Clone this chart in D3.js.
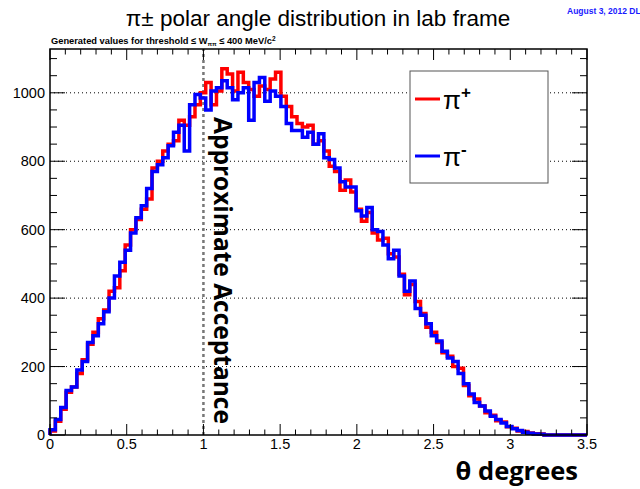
<!DOCTYPE html>
<html>
<head>
<meta charset="utf-8">
<script src="https://cdn.jsdelivr.net/npm/d3@7"></script>
<style>
    body { margin: 0; background: #fff; }
    text { font-family: "Liberation Sans", Arial, sans-serif; }
</style>
</head>
<body>
<div id="chart"></div>
<script>

// == DATA == //
// bin edges: 100 bins from 0 to 3.5
let binWidth = 0.035;
let xTicks = [0, 0.5, 1, 1.5, 2, 2.5, 3, 3.5];
let yTicks = [0, 200, 400, 600, 800, 1000];

let piPlus = [12, 40, 75, 125, 140, 180, 220, 265, 300, 340,
    365, 420, 430, 480, 555, 600, 630, 660, 690, 780,
    800, 830, 850, 860, 920, 905, 930, 965, 1000, 1030,
    965, 1005, 1070, 1055, 1005, 1060, 1030, 1010, 990, 1020,
    1010, 1040, 1060, 990, 960, 930, 910, 900, 905, 850,
    860, 830, 785, 770, 715, 745, 710, 660, 625, 650,
    590, 570, 575, 530, 520, 470, 410, 440, 390, 355,
    315, 300, 270, 240, 230, 200, 195, 145, 115, 105,
    85, 65, 58, 42, 38, 24, 20, 12, 10, 6,
    4, 3, 0, 0, 0, 0, 0, 0, 0, 0];

let piMinus = [15, 45, 80, 130, 140, 190, 215, 270, 290, 325,
    360, 400, 465, 505, 540, 590, 635, 670, 720, 770,
    790, 810, 845, 885, 905, 830, 965, 995, 985, 950,
    1005, 1015, 1035, 1015, 980, 1000, 1015, 920, 1030, 1045,
    975, 1005, 990, 960, 910, 890, 890, 870, 885, 850,
    880, 810, 805, 780, 740, 725, 725, 655, 640, 665,
    600, 595, 555, 515, 540, 465, 420, 450, 370, 350,
    325, 290, 275, 245, 225, 215, 180, 150, 120, 95,
    85, 70, 55, 45, 35, 25, 18, 13, 8, 5,
    3, 2, 0, 0, 0, 0, 0, 0, 0, 0];

let seriesNames = ['+', '-'];
let seriesColors = ['#ff0000', '#0000ff'];

// == SVG == //
let width = 640, height = 489;
let frame = {left: 50, right: 587, top: 49, bottom: 435};

let svg = d3.select('#chart').append('svg')
    .attr('width', width)
    .attr('height', height);

let x = d3.scaleLinear().domain([0, 3.5]).range([frame.left, frame.right]);
let y = d3.scaleLinear().domain([0, 1128]).range([frame.bottom, frame.top]);

// titles
svg.append('text')
    .attr('x', 318).attr('y', 26)
    .attr('text-anchor', 'middle')
    .attr('font-size', '22.5px')
    .text('\u03c0\u00b1 polar angle distribution in lab frame');

svg.append('text')
    .attr('x', 567).attr('y', 14)
    .attr('font-size', '8.5px')
    .attr('font-weight', 'bold')
    .style('fill', '#1a1aff')
    .text('August  3, 2012 DL');

let sub = svg.append('text')
    .attr('x', 51).attr('y', 44)
    .attr('font-size', '9.3px')
    .attr('font-weight', 'bold');
sub.append('tspan').text('Generated values for threshold \u2264 W');
sub.append('tspan').attr('font-size', '6px').attr('dy', 2).text('\u03c0\u03c0');
sub.append('tspan').attr('dy', -2).text(' \u2264 400 MeV/c');
sub.append('tspan').attr('font-size', '6.5px').attr('dy', -3.5).text('2');

// grid (horizontal only)
svg.append('g')
    .selectAll('line')
    .data(yTicks.filter(d => d > 0))
    .enter().append('line')
    .attr('x1', frame.left).attr('x2', frame.right)
    .attr('y1', d => y(d)).attr('y2', d => y(d))
    .attr('stroke', '#000')
    .attr('stroke-width', 1)
    .attr('stroke-dasharray', '1,3');

// acceptance line
svg.append('line')
    .attr('x1', x(1)).attr('x2', x(1))
    .attr('y1', frame.bottom).attr('y2', frame.top)
    .attr('stroke', '#777')
    .attr('stroke-width', 2.5)
    .attr('stroke-dasharray', '3,3');

svg.append('text')
    .attr('transform', `translate(${x(1) + 11}, 117) rotate(90)`)
    .attr('font-weight', 'bold')
    .attr('font-size', '24.5px')
    .style('font-family', '"Open Sans", sans-serif')
    .text('Approximate Acceptance');

// histograms
let line = d3.line()
    .x(d => x(d[0]))
    .y(d => y(d[1]))
    .curve(d3.curveStepAfter);

[piPlus, piMinus].forEach((vals, k) => {
    let pts = [[0, 0]];
    vals.forEach((v, i) => pts.push([i * binWidth, v]));
    pts.push([vals.length * binWidth, vals[vals.length - 1]]);
    svg.append('path')
        .attr('d', line(pts))
        .attr('fill', 'none')
        .attr('stroke', seriesColors[k])
        .attr('stroke-width', 3.5);
});

// == AXES == //
let xMinor = d3.range(0, 3.5001, 0.1);
let yMinor = d3.range(0, 1101, 50);

let axes = svg.append('g').attr('stroke', '#000');

// bottom + top ticks
xMinor.forEach(v => {
    let major = xTicks.some(t => Math.abs(t - v) < 1e-6);
    let len = major ? 11 : 5.5;
    axes.append('line').attr('x1', x(v)).attr('x2', x(v))
        .attr('y1', frame.bottom).attr('y2', frame.bottom - len).attr('stroke-width', 1);
    axes.append('line').attr('x1', x(v)).attr('x2', x(v))
        .attr('y1', frame.top).attr('y2', frame.top + len).attr('stroke-width', 1);
});

// left + right ticks
yMinor.forEach(v => {
    let major = v % 200 === 0;
    let len = major ? 15 : 7;
    axes.append('line').attr('x1', frame.left).attr('x2', frame.left + len)
        .attr('y1', y(v)).attr('y2', y(v)).attr('stroke-width', 1);
    axes.append('line').attr('x1', frame.right).attr('x2', frame.right - len)
        .attr('y1', y(v)).attr('y2', y(v)).attr('stroke-width', 1);
});

// frame
svg.append('rect')
    .attr('x', frame.left).attr('y', frame.top)
    .attr('width', frame.right - frame.left)
    .attr('height', frame.bottom - frame.top)
    .attr('fill', 'none')
    .attr('stroke', '#000')
    .attr('stroke-width', 1.5);

// tick labels
svg.append('g').selectAll('text')
    .data(xTicks).enter().append('text')
    .attr('x', d => x(d)).attr('y', 449)
    .attr('text-anchor', 'middle')
    .attr('font-size', '14.5px')
    .text(d => d);

svg.append('g').selectAll('text')
    .data(yTicks).enter().append('text')
    .attr('x', 45).attr('y', d => y(d) + 5)
    .attr('text-anchor', 'end')
    .attr('font-size', '14.5px')
    .text(d => d);

// x title
svg.append('text')
    .attr('x', 578).attr('y', 480)
    .attr('text-anchor', 'end')
    .attr('font-weight', 'bold')
    .attr('font-size', '25.5px')
    .style('font-family', '"Open Sans", sans-serif')
    .text('\u03b8 degrees');

// == LEGEND == //
let legend = svg.append('g');
legend.append('rect')
    .attr('x', 410).attr('y', 71)
    .attr('width', 138).attr('height', 112)
    .attr('fill', '#fff')
    .attr('stroke', '#555')
    .attr('stroke-width', 1);

seriesNames.forEach((name, k) => {
    let ly = 99 + k * 57;
    legend.append('line')
        .attr('x1', 415).attr('x2', 440)
        .attr('y1', ly).attr('y2', ly)
        .attr('stroke', seriesColors[k])
        .attr('stroke-width', 3);
    let t = legend.append('text')
        .attr('x', 443).attr('y', ly + 10)
        .attr('font-size', '26px');
    t.append('tspan').text('\u03c0');
    t.append('tspan')
        .attr('dy', -11)
        .attr('font-size', '17px')
        .attr('font-weight', 'bold')
        .text(name);
});

</script>
</body>
</html>
